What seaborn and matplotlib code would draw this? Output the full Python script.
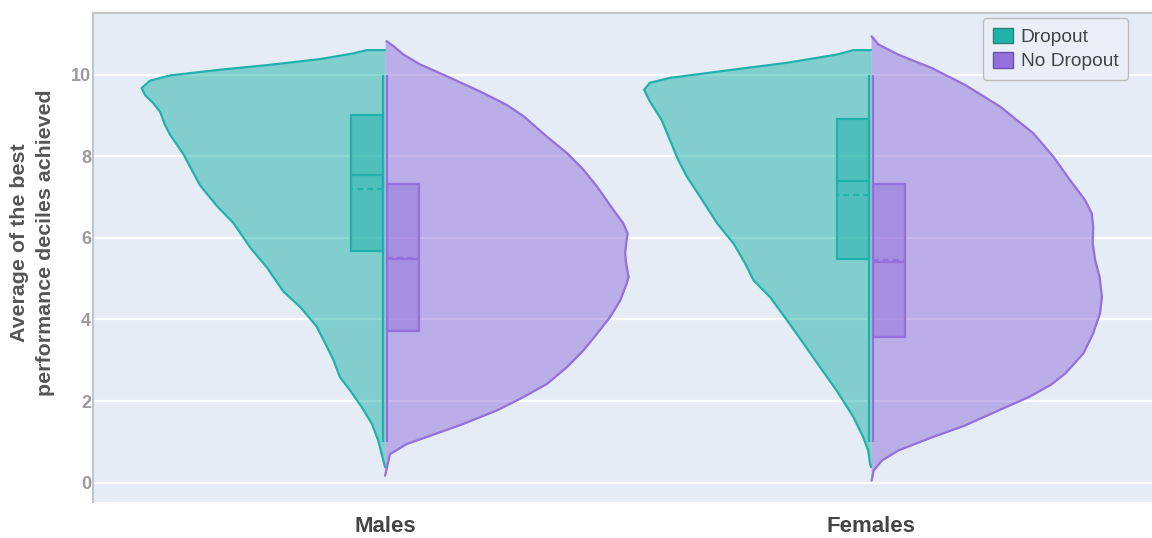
import matplotlib
matplotlib.use("Agg")
import matplotlib.pyplot as plt
from matplotlib.patches import Patch
import seaborn as sns

# ---------------- data ----------------
categories = ["Males", "Females"]
groups = ["Dropout", "No Dropout"]
y_ticks = [0, 2, 4, 6, 8, 10]
y_tick_labels = ["0", "2", "4", "6", "8", "10"]

# violin outlines: y positions and half-widths (in category units)
males_dropout_y = [0.38, 0.70, 1.03, 1.44, 1.85, 2.26, 2.59, 3.00, 3.41, 3.83,
                   4.31, 4.68, 5.27, 5.77, 6.36, 6.78, 7.29, 8.05, 8.52, 8.77,
                   9.09, 9.30, 9.50, 9.67, 9.85, 9.98, 10.12, 10.24, 10.38,
                   10.52, 10.60, 10.60]
males_dropout_w = [0.000, 0.007, 0.014, 0.027, 0.048, 0.072, 0.093, 0.106, 0.123,
                   0.141, 0.175, 0.209, 0.243, 0.278, 0.312, 0.346, 0.381, 0.415,
                   0.442, 0.453, 0.463, 0.477, 0.494, 0.501, 0.484, 0.442, 0.340,
                   0.237, 0.134, 0.065, 0.038, 0.000]

males_nodrop_y = [0.17, 0.70, 0.95, 1.15, 1.44, 1.77, 2.10, 2.42, 2.83, 3.24,
                  3.65, 4.06, 4.47, 4.88, 5.04, 5.37, 5.62, 5.95, 6.11, 6.36,
                  6.68, 7.26, 7.67, 8.08, 8.48, 8.98, 9.26, 9.59, 9.96, 10.25,
                  10.49, 10.70, 10.82]
males_nodrop_w = [0.000, 0.010, 0.045, 0.093, 0.161, 0.230, 0.285, 0.333, 0.374,
                  0.408, 0.436, 0.463, 0.484, 0.497, 0.501, 0.496, 0.494, 0.497,
                  0.499, 0.490, 0.470, 0.436, 0.408, 0.374, 0.333, 0.285, 0.250,
                  0.195, 0.127, 0.072, 0.038, 0.017, 0.003]

females_dropout_y = [0.38, 0.46, 0.79, 1.11, 1.60, 2.26, 2.83, 3.41, 3.98, 4.55,
                     4.96, 5.37, 5.86, 6.36, 7.01, 7.50, 7.91, 8.40, 8.89, 9.34,
                     9.63, 9.80, 9.92, 10.08, 10.29, 10.49, 10.60, 10.60]
females_dropout_w = [0.000, 0.002, 0.006, 0.016, 0.036, 0.071, 0.105, 0.139, 0.173,
                     0.208, 0.242, 0.259, 0.283, 0.317, 0.352, 0.379, 0.397, 0.414,
                     0.431, 0.455, 0.467, 0.455, 0.414, 0.311, 0.173, 0.071, 0.036,
                     0.000]

females_nodrop_y = [0.05, 0.29, 0.54, 0.79, 1.11, 1.40, 1.77, 2.10, 2.40, 2.68,
                    3.17, 3.66, 4.15, 4.56, 5.05, 5.46, 5.87, 6.27, 6.60, 6.93,
                    7.42, 7.99, 8.56, 9.22, 9.75, 10.16, 10.49, 10.74, 10.94]
females_nodrop_w = [0.001, 0.005, 0.022, 0.056, 0.125, 0.193, 0.262, 0.325, 0.370,
                    0.400, 0.437, 0.457, 0.471, 0.475, 0.470, 0.461, 0.456, 0.457,
                    0.454, 0.440, 0.409, 0.375, 0.334, 0.265, 0.193, 0.125, 0.056,
                    0.015, 0.001]

# box statistics per category (Males, Females)
dropout_low = [1.0, 1.0]
dropout_q1 = [5.68, 5.49]
dropout_median = [7.54, 7.40]
dropout_mean = [7.19, 7.06]
dropout_q3 = [9.02, 8.91]
dropout_high = [10.0, 10.0]

nodrop_low = [1.0, 1.0]
nodrop_q1 = [3.72, 3.56]
nodrop_median = [5.47, 5.40]
nodrop_mean = [5.51, 5.45]
nodrop_q3 = [7.31, 7.32]
nodrop_high = [10.0, 10.0]

# ---------------- style ----------------
sns.set_theme(style="white")
plt.rcParams["font.family"] = ["Liberation Sans", "DejaVu Sans"]

TEAL = "#20b2aa"
PURPLE = "#9370db"
BG = "#e5ecf6"

W, H = 1152, 538
fig = plt.figure(figsize=(W / 100, H / 100), dpi=100)
fig.patch.set_facecolor("white")
left, right, top, bottom = 93, 1152, 13, 501.7
ax = fig.add_axes([left / W, 1 - bottom / H, (right - left) / W, (bottom - top) / H])
ax.set_facecolor(BG)

violins = {
    ("Dropout", 0): (males_dropout_y, males_dropout_w),
    ("No Dropout", 0): (males_nodrop_y, males_nodrop_w),
    ("Dropout", 1): (females_dropout_y, females_dropout_w),
    ("No Dropout", 1): (females_nodrop_y, females_nodrop_w),
}
box_stats = {
    "Dropout": (dropout_low, dropout_q1, dropout_median, dropout_mean, dropout_q3, dropout_high),
    "No Dropout": (nodrop_low, nodrop_q1, nodrop_median, nodrop_mean, nodrop_q3, nodrop_high),
}
colors = {"Dropout": TEAL, "No Dropout": PURPLE}
sides = {"Dropout": -1, "No Dropout": 1}

gap = 0.0035
box_w = 0.067
lw = 1.6

for g in groups:
    c = colors[g]
    s = sides[g]
    low, q1, med, mean, q3, high = box_stats[g]
    for i, cat in enumerate(categories):
        ys, ws = violins[(g, i)]
        xs = [i + s * w for w in ws]
        ax.fill_betweenx(ys, [i] * len(ys), xs, facecolor=c, alpha=0.5, lw=0, zorder=2)
        sns.lineplot(x=xs, y=ys, sort=False, estimator=None, color=c, lw=lw,
                     ax=ax, legend=False, zorder=3, solid_joinstyle="round",
                     solid_capstyle="round")
        x_in = i + s * gap
        x_out = x_in + s * box_w
        ax.bar(x_in, q3[i] - q1[i], bottom=q1[i], width=s * box_w, align="edge",
               facecolor=c, alpha=0.5, edgecolor="none", zorder=4)
        ax.bar(x_in, q3[i] - q1[i], bottom=q1[i], width=s * box_w, align="edge",
               facecolor="none", edgecolor=c, lw=lw, zorder=5)
        ax.vlines(x_in, low[i], high[i], color=c, lw=lw, zorder=6)
        ax.hlines(med[i], x_in, x_out, color=c, lw=lw, zorder=6)
        ax.hlines(mean[i], x_in, x_out, color=c, lw=lw, linestyles=(0, (2.5, 2)), zorder=6)

# ---------------- axes ----------------
ax.set_xlim(-0.601, 1.578)
ax.set_ylim(-0.466, 11.51)
ax.set_xticks(range(len(categories)))
ax.set_xticklabels(categories, fontsize=16, fontweight="bold", color="#444444")
ax.set_yticks(y_ticks)
ax.set_yticklabels(y_tick_labels, fontsize=13, fontweight="bold", color="#9b9b9b")
ax.tick_params(axis="x", length=0, pad=10)
ax.tick_params(axis="y", length=0, pad=1.5)
ax.yaxis.grid(True, color="white", lw=1.6, zorder=0)
ax.xaxis.grid(False)
ax.set_axisbelow(True)
for sp in ["right", "bottom"]:
    ax.spines[sp].set_visible(False)
for sp in ["left", "top"]:
    ax.spines[sp].set_visible(True)
    ax.spines[sp].set_color("#c4c4c4")
    ax.spines[sp].set_linewidth(1.5)

ax.set_ylabel("Average of the best\nperformance deciles achieved", fontsize=15.4,
              fontweight="bold", color="#555555", linespacing=1.47)
ax.yaxis.set_label_coords((32.5 - left) / (right - left), (bottom - 243) / (bottom - top))
ax.yaxis.label.set_verticalalignment("center")
ax.set_xlabel("")

handles = [Patch(facecolor=colors[g], edgecolor="#2a7f78" if g == "Dropout" else "#6a4fb0",
                 lw=1.0, label=g) for g in groups]
leg = fig.legend(handles=handles, loc="upper right",
                 bbox_to_anchor=(1128 / W, 1 - 18 / H), frameon=True, fancybox=True,
                 fontsize=13.8, handlelength=1.05, handleheight=0.9,
                 handletextpad=0.42, labelspacing=0.3, borderpad=0.5,
                 borderaxespad=0.0)
leg.get_frame().set_edgecolor("#bdbdbd")
leg.get_frame().set_facecolor("#e9eef7")
leg.get_frame().set_alpha(1)
leg.get_frame().set_linewidth(1.0)
for t in leg.get_texts():
    t.set_color("#444444")

fig.savefig("out.png", dpi=100)
